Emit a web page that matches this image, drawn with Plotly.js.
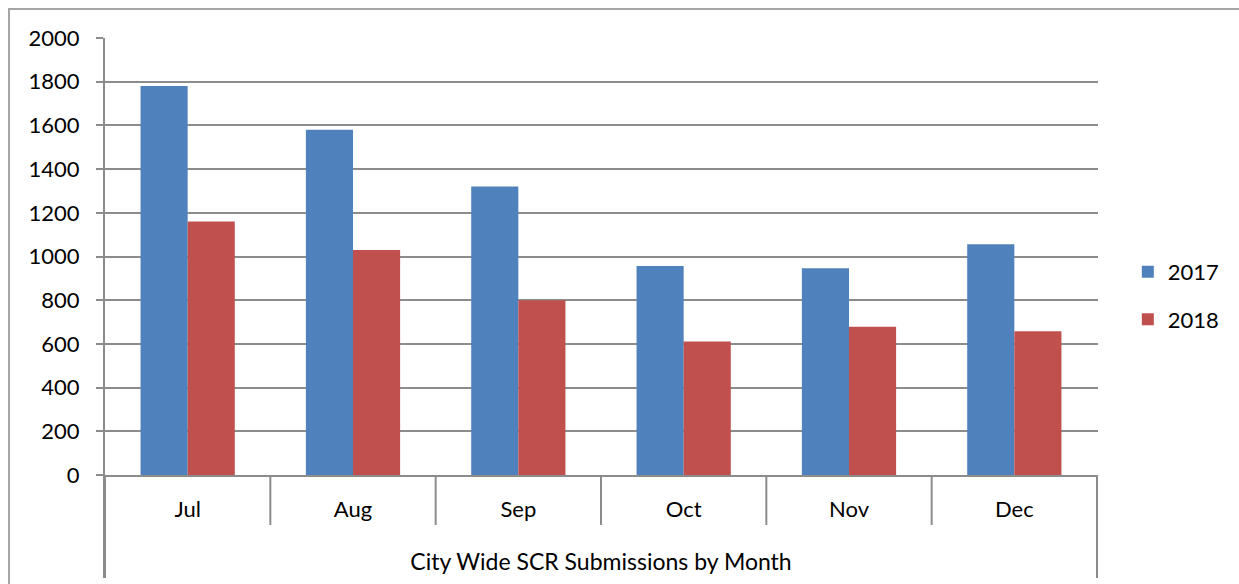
<!DOCTYPE html>
<html>
<head>
<meta charset="utf-8">
<script src="https://cdn.plot.ly/plotly-3.0.1.min.js"></script>
<style>
  html, body { margin: 0; padding: 0; background: #fff; overflow: hidden; }
  #frame { position: absolute; left: 8px; top: 8px; width: 1300px; height: 700px;
           border: 2px solid #a6a6a6; box-sizing: border-box; }
  #chart { position: absolute; left: 0; top: 0; width: 1239px; height: 584px; }
</style>
</head>
<body>
<div id="frame"></div>
<div id="chart"></div>
<script>
const months = ["Jul", "Aug", "Sep", "Oct", "Nov", "Dec"];
const values2017 = [1780, 1580, 1320, 957, 946, 1056];
const values2018 = [1160, 1030, 800, 611, 678, 658];
const axisTitle = "City Wide SCR Submissions by Month";

const FONT = "Lato, 'Open Sans', sans-serif";
const GRID = "#8c8c8c";

const traces = [
  { x: months, y: values2017, type: "bar", name: "2017", legendgroup: "a",
    marker: { color: "#4f81bd" } },
  { x: months, y: values2018, type: "bar", name: "2018", legendgroup: "b",
    marker: { color: "#c0504d" } },
];

// category divider lines below the x axis
const plotH = 584 - 38 - 109;
const shapes = [];
for (let i = 0; i <= months.length; i++) {
  const edge = i === 0 || i === months.length;
  shapes.push({
    type: "line", xref: "x", yref: "paper",
    x0: i - 0.5, x1: i - 0.5, y0: 0,
    y1: edge ? -103 / plotH : -50 / plotH,
    line: { color: GRID, width: 2 },
  });
}

const layout = {
  width: 1239, height: 584,
  margin: { l: 104, r: 141, t: 38, b: 109 },
  paper_bgcolor: "rgba(0,0,0,0)",
  plot_bgcolor: "rgba(0,0,0,0)",
  font: { family: FONT, size: 22, color: "#000" },
  barmode: "group",
  bargap: 0.43,
  bargroupgap: 0,
  showlegend: true,
  legend: { x: 1.03, y: 0.41, xanchor: "left", yanchor: "middle",
            tracegroupgap: 16, font: { size: 22 } },
  xaxis: {
    type: "category",
    showline: true, linecolor: GRID, linewidth: 2,
    showgrid: false,
    ticks: "outside", ticklen: 14, tickcolor: "rgba(0,0,0,0)",
    tickfont: { size: 22 },
    title: { text: axisTitle, font: { size: 23 }, standoff: 32 },
  },
  yaxis: {
    range: [0, 2000], dtick: 200,
    showgrid: true, gridcolor: GRID, gridwidth: 2,
    showline: false, zeroline: false,
    ticks: "outside", ticklen: 7, tickcolor: GRID, tickwidth: 2,
    ticklabelstandoff: 12,
    tickfont: { size: 22 },
  },
  shapes: shapes.concat([{
    type: "line", xref: "paper", yref: "paper",
    x0: 0, x1: 0, y0: 1, y1: -103 / plotH,
    line: { color: GRID, width: 2 },
  }]),
};

Plotly.newPlot("chart", traces, layout, { displayModeBar: false });
</script>
</body>
</html>
